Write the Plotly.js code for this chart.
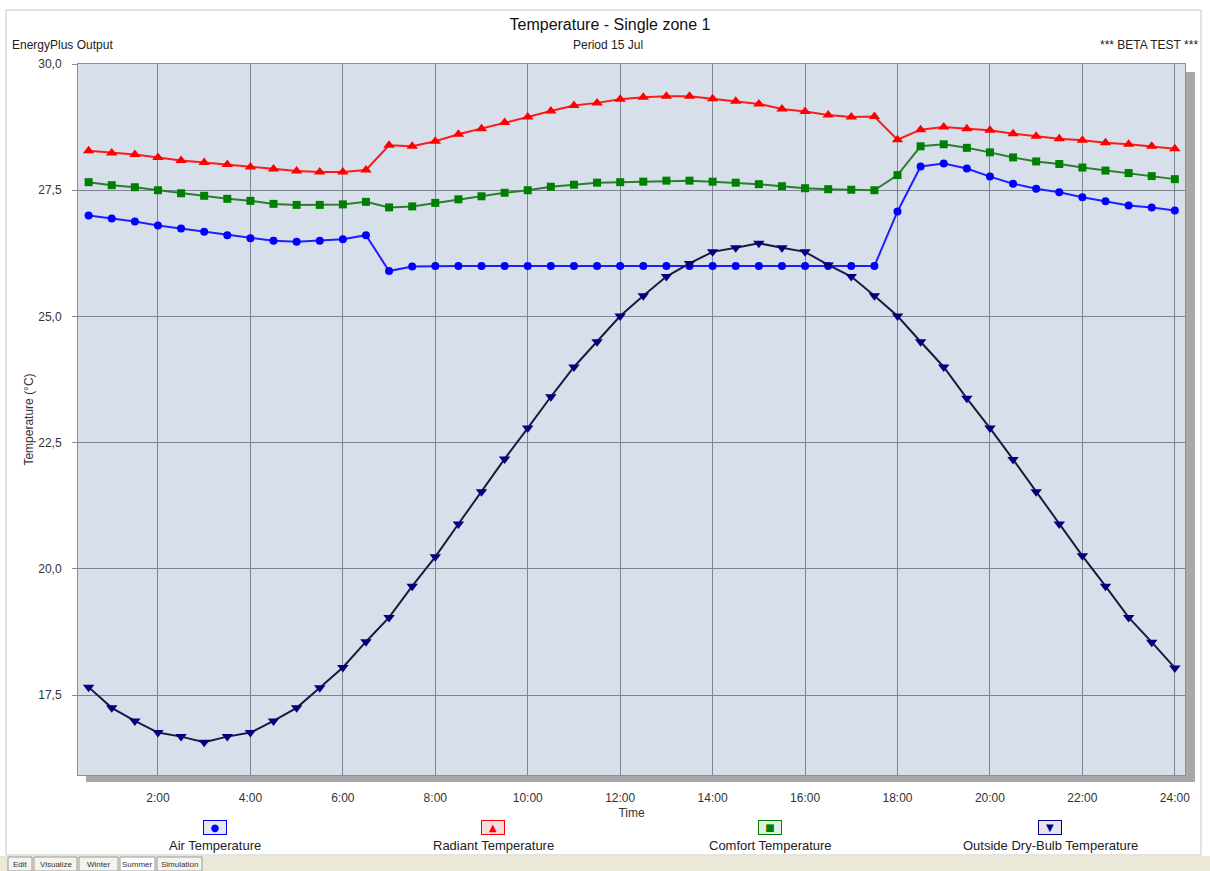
<!DOCTYPE html>
<html>
<head>
<meta charset="utf-8">
<script src="https://cdn.plot.ly/plotly-3.0.1.min.js"></script>
<style>html,body{margin:0;padding:0;background:#fff;}#chart{width:1210px;height:871px;}</style>
</head>
<body>
<div id="chart"></div>
<script>
// ---- data ----
const hours = [0.5,1,1.5,2,2.5,3,3.5,4,4.5,5,5.5,6,6.5,7,7.5,8,8.5,9,9.5,10,10.5,11,11.5,12,
               12.5,13,13.5,14,14.5,15,15.5,16,16.5,17,17.5,18,18.5,19,19.5,20,20.5,21,21.5,22,22.5,23,23.5,24];
const airTemp = [27.00,26.94,26.88,26.80,26.74,26.68,26.61,26.55,26.50,26.48,26.50,26.53,26.61,
                 25.90,25.99,26.00,26.00,26.00,26.00,26.00,26.00,26.00,26.00,26.00,26.00,26.00,26.00,26.00,26.00,26.00,26.00,26.00,26.00,26.00,26.00,
                 27.08,27.97,28.03,27.93,27.77,27.63,27.53,27.46,27.36,27.28,27.20,27.16,27.10];
const radiantTemp = [28.28,28.24,28.21,28.15,28.09,28.05,28.01,27.96,27.92,27.88,27.86,27.86,27.90,
                     28.39,28.37,28.47,28.61,28.72,28.84,28.95,29.07,29.18,29.23,29.30,29.34,29.36,29.36,29.31,29.26,29.21,29.11,29.06,28.99,28.95,28.96,
                     28.50,28.70,28.75,28.72,28.69,28.62,28.57,28.52,28.49,28.44,28.41,28.37,28.32];
const comfortTemp = [27.66,27.60,27.56,27.50,27.44,27.39,27.33,27.29,27.23,27.21,27.21,27.22,27.27,
                     27.16,27.18,27.25,27.32,27.38,27.45,27.50,27.57,27.61,27.65,27.66,27.67,27.69,27.69,27.67,27.65,27.62,27.58,27.54,27.52,27.51,27.50,
                     27.80,28.37,28.41,28.34,28.25,28.15,28.07,28.02,27.95,27.89,27.84,27.78,27.72];
const outsideTemp = [17.66,17.25,16.99,16.76,16.68,16.57,16.68,16.76,16.99,17.25,17.65,18.05,18.56,19.04,19.66,20.24,
                     20.89,21.53,22.18,22.79,23.41,24.00,24.50,25.01,25.41,25.79,26.05,26.28,26.36,26.45,26.36,26.28,26.02,
                     25.79,25.41,25.01,24.50,24.00,23.38,22.79,22.17,21.53,20.89,20.26,19.66,19.04,18.55,18.04];
const xTickVals = [2,4,6,8,10,12,14,16,18,20,22,24];
const xTickText = ["2:00","4:00","6:00","8:00","10:00","12:00","14:00","16:00","18:00","20:00","22:00","24:00"];
const seriesNames = ["Air Temperature","Radiant Temperature","Comfort Temperature","Outside Dry-Bulb Temperature"];
const tabs = ["Edit","Visualize","Winter","Summer","Simulation"];

// ---- layout helpers (pixel -> paper) ----
const L = 78, R = 1185, T = 64, B = 775;
const px = x => (x - L) / (R - L);
const py = y => (B - y) / (B - T);
const FONT = "Liberation Sans, Arial, sans-serif";

const styles = [
  {line:"#1f1fff", marker:"#0000ff", symbol:"circle", size:8, fill:"#e6e8f8"},
  {line:"#ff1a1a", marker:"#ff0000", symbol:"triangle-up", size:10, fill:"#f7dede"},
  {line:"#2e7d2e", marker:"#008000", symbol:"square", size:8, fill:"#e2efe2"},
  {line:"#1a1a40", marker:"#000080", symbol:"triangle-down", size:10, fill:"#e3e3f2"}
];
const values = [airTemp, radiantTemp, comfortTemp, outsideTemp];

const traces = values.map((v,i) => ({
  x: hours, y: v, type: "scatter", mode: "lines+markers", name: seriesNames[i],
  line: {color: styles[i].line, width: 2},
  marker: {color: styles[i].marker, symbol: styles[i].symbol, size: styles[i].size, line:{width:0}},
  showlegend: false
}));

const glyphs = ["●","▲","■","▼"];
const legendX = [215, 493, 770, 1050];
const annotations = [
  {text:"EnergyPlus Output", xref:"paper", yref:"paper", x:px(10), y:py(45), xanchor:"left", yanchor:"middle", showarrow:false, font:{family:FONT,size:12,color:"#222"}},
  {text:"Period 15 Jul", xref:"paper", yref:"paper", x:px(608), y:py(45), xanchor:"center", yanchor:"middle", showarrow:false, font:{family:FONT,size:12,color:"#222"}},
  {text:"*** BETA TEST ***", xref:"paper", yref:"paper", x:px(1200), y:py(45), xanchor:"right", yanchor:"middle", showarrow:false, font:{family:FONT,size:12,color:"#222"}}
];
seriesNames.forEach((n,i) => {
  annotations.push({text:glyphs[i], xref:"paper", yref:"paper", x:px(legendX[i]), y:py(828), xanchor:"center", yanchor:"middle",
    showarrow:false, width:22, height:13, borderpad:0, bordercolor:styles[i].marker, borderwidth:1, bgcolor:styles[i].fill,
    font:{family:"DejaVu Sans",size:10,color:styles[i].marker}});
  annotations.push({text:n, xref:"paper", yref:"paper", x:px(legendX[i]), y:py(845), xanchor:"center", yanchor:"middle",
    showarrow:false, font:{family:FONT,size:13,color:"#222"}});
});
const tabX = [[8,32],[34,77],[79,118],[120,155],[157,202]];
const shapes = [
  {type:"rect", xref:"paper", yref:"paper", x0:px(R), x1:px(R+10), y0:py(B+7), y1:py(T+8), fillcolor:"#a8a8a8", line:{width:0}, layer:"below"},
  {type:"rect", xref:"paper", yref:"paper", x0:px(L+8), x1:px(R+10), y0:py(B+7), y1:py(B), fillcolor:"#a8a8a8", line:{width:0}, layer:"below"},
  {type:"rect", xref:"paper", yref:"paper", x0:px(6), x1:px(1201), y0:py(855), y1:py(10), line:{color:"#c8c8c8", width:1}, fillcolor:"rgba(0,0,0,0)", layer:"below"},
  {type:"rect", xref:"paper", yref:"paper", x0:px(0), x1:px(1210), y0:py(871), y1:py(856), fillcolor:"#ece9d8", line:{width:0}, layer:"below"}
];
tabs.forEach((t,i) => {
  shapes.push({type:"rect", xref:"paper", yref:"paper", x0:px(tabX[i][0]), x1:px(tabX[i][1]), y0:py(871), y1:py(857),
    fillcolor: i===3 ? "#ffffff" : "#f4f3ee", line:{color:"#9a9a9a", width:1}, layer:"below"});
  annotations.push({text:t, xref:"paper", yref:"paper", x:px((tabX[i][0]+tabX[i][1])/2), y:py(864), xanchor:"center", yanchor:"middle",
    showarrow:false, font:{family:FONT,size:8,color:"#333"}});
});

const layout = {
  width:1210, height:871,
  margin:{l:L, r:1210-R, t:T, b:871-B, pad:0},
  paper_bgcolor:"#ffffff", plot_bgcolor:"#d7dfeb",
  separators:",.",
  font:{family:FONT, size:12, color:"#333"},
  title:{text:"Temperature - Single zone 1", x:610/1210, xanchor:"center", y:1-24/871, yanchor:"middle", font:{family:FONT,size:16,color:"#111"}},
  xaxis:{range:[0.27,24.22], tickvals:xTickVals, ticktext:xTickText, showgrid:true, gridcolor:"#7e8592", gridwidth:1,
         showline:true, mirror:true, linecolor:"#8a8f99", linewidth:1, ticks:"", zeroline:false, ticklabelstandoff:12,
         tickfont:{family:FONT,size:12,color:"#333"},
         title:{text:"Time", standoff:4, font:{family:FONT,size:12,color:"#333"}}},
  yaxis:{range:[15.92,30.0], tick0:0, dtick:2.5, tickformat:".1f", showgrid:true, gridcolor:"#7e8592", gridwidth:1,
         showline:true, mirror:true, linecolor:"#8a8f99", linewidth:1, ticks:"outside", ticklen:5, tickcolor:"#8a8f99", zeroline:false,
         ticklabelstandoff:8,
         tickfont:{family:FONT,size:12,color:"#333"},
         title:{text:"Temperature (°C)", standoff:2, font:{family:FONT,size:12,color:"#333"}}},
  annotations: annotations,
  shapes: shapes
};

Plotly.newPlot("chart", traces, layout, {displayModeBar:false, staticPlot:true});
</script>
</body>
</html>
